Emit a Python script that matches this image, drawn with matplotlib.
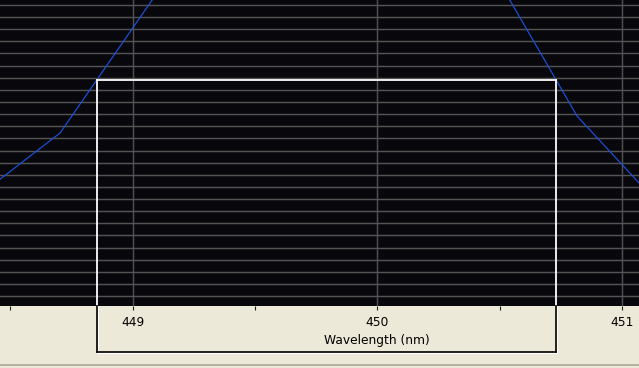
import matplotlib
matplotlib.use("Agg")
import matplotlib.pyplot as plt
from matplotlib.ticker import MultipleLocator, FixedLocator
import numpy as np

# ---- data ----
wavelength = [448.35, 448.703, 449.053, 449.406, 449.76, 450.11, 450.46, 450.816, 451.17]
intensity = [7.96, 13.44, 23.64, 33.84, 40.0, 36.0, 27.24, 14.85, 7.14]

major_ticks = [449, 450, 451]
major_labels = ["449", "450", "451"]
minor_ticks = [448.5, 449.5, 450.5]

# selection box (marker region)
sel_left, sel_right, sel_level = 448.854, 450.730, 17.81

x_label = "Wavelength (nm)"

# ---- figure ----
W, H, DPI = 639, 368, 100
fig = plt.figure(figsize=(W / DPI, H / DPI), dpi=DPI)
beige = "#ece9d8"
fig.patch.set_facecolor(beige)

ax_bottom_px = 306
ax = fig.add_axes([0, (H - ax_bottom_px) / H, 1, ax_bottom_px / H])
ax.set_facecolor("#08080c")
ax.set_xlim(448.4576, 451.0695)
ax.set_ylim(-0.82, 24.41)

ax.yaxis.set_major_locator(MultipleLocator(1))
ax.tick_params(axis="y", left=False, labelleft=False)
ax.grid(axis="y", color="#535353", linewidth=1.05)

ax.xaxis.set_major_locator(FixedLocator(major_ticks))
ax.set_xticklabels(major_labels)
ax.xaxis.set_minor_locator(FixedLocator(minor_ticks))
ax.grid(axis="x", which="major", color="#505050", linewidth=1.05)
ax.tick_params(axis="x", which="both", direction="out", length=3, width=0.8,
               color="#202020", pad=4, labelsize=8.8, labelcolor="black")
for s in ax.spines.values():
    s.set_visible(False)
ax.set_axisbelow(True)

ax.plot(wavelength, intensity, color="#1c50e0", linewidth=0.85, zorder=3)

# selection rectangle: white over the plot, dark over the beige panel
y_axis_bottom = -0.82
y_box_bottom = -0.82 - (351.5 - ax_bottom_px) / 12.125
for xv in (sel_left, sel_right):
    ax.plot([xv, xv], [sel_level, y_axis_bottom], color="white", linewidth=1.3, zorder=4)
    ax.plot([xv, xv], [y_axis_bottom, y_box_bottom], color="#101010", linewidth=1.3,
            zorder=4, clip_on=False)
    ax.plot([xv + 0.006, xv + 0.006], [y_axis_bottom, y_box_bottom], color="white",
            linewidth=0.7, zorder=4, clip_on=False)
ax.plot([sel_left, sel_right], [sel_level, sel_level], color="white", linewidth=1.3, zorder=4)
ax.plot([sel_left, sel_right], [y_box_bottom, y_box_bottom], color="#101010",
        linewidth=1.3, zorder=4, clip_on=False, solid_capstyle="projecting")
ax.plot([sel_left, sel_right + 0.006], [y_box_bottom - 0.12, y_box_bottom - 0.12],
        color="white", linewidth=0.7, zorder=4, clip_on=False)

# x label centred under 450
ax.text(450, y_axis_bottom - (340.5 - ax_bottom_px) / 12.125, x_label,
        ha="center", va="center", fontsize=8.8, color="black", clip_on=False)

# bottom window border
fig.add_artist(plt.Line2D([0, 1], [1 - 364.5 / H, 1 - 364.5 / H], color="#aca899",
                          linewidth=1.2, transform=fig.transFigure))

fig.savefig("out.png", dpi=DPI, facecolor=fig.get_facecolor())
